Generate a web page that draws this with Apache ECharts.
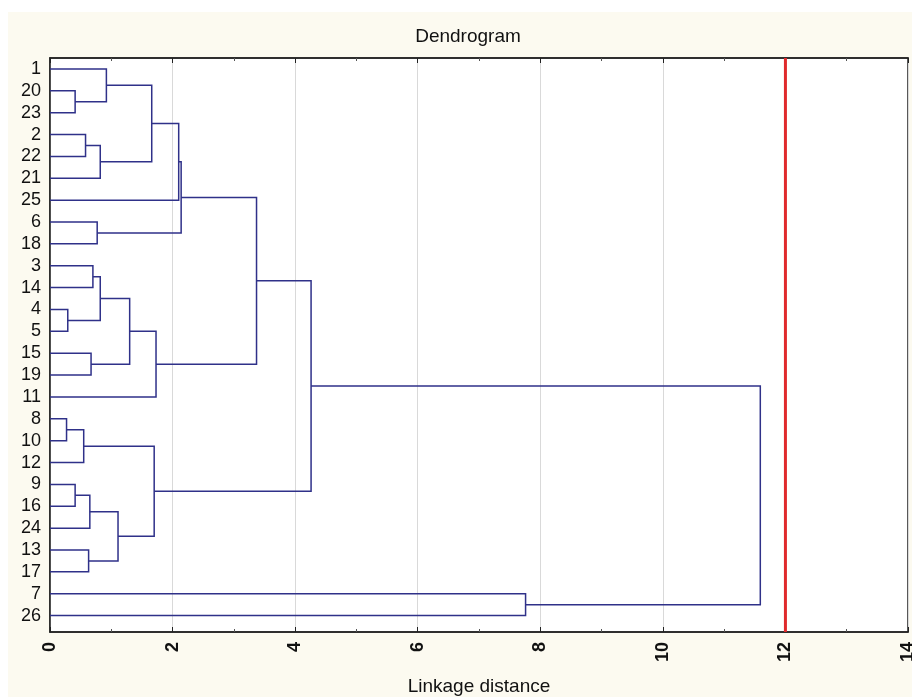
<!DOCTYPE html>
<html>
<head>
<meta charset="utf-8">
<script src="https://cdn.jsdelivr.net/npm/echarts@6/dist/echarts.min.js"></script>
<style>html,body{margin:0;padding:0;background:#fff}#c{width:912px;height:697px}</style>
</head>
<body>
<div id="c"></div>
<script>
// Leaves, top to bottom
const leafLabels = ['1','20','23','2','22','21','25','6','18','3','14','4','5','15','19','11','8','10','12','9','16','24','13','17','7','26'];
// Merge steps: cluster Ck is created by step k (1-based)
const mergeLeft   = ['20','1','2','C3','C2','C5','6','C6','3','4','C9','15','C11','C13','C8','8','C16','9','C18','13','C19','C17','C15','7','C23'];
const mergeRight  = ['23','C1','22','21','C4','25','18','C7','14','5','C10','19','C12','11','C14','10','12','16','24','17','C20','C21','C22','26','C24'];
const mergeHeight = [0.41,0.92,0.58,0.82,1.66,2.10,0.77,2.14,0.70,0.29,0.82,0.67,1.30,1.73,3.37,0.27,0.55,0.41,0.65,0.63,1.11,1.70,4.26,7.76,11.59];
const xTicks = [0,2,4,6,8,10,12,14];
const cutLevel = [12];

const pos = {};
leafLabels.forEach((l,i)=>{ pos[l] = {h:0, y:i}; });
const links = [];
mergeLeft.forEach((a,k)=>{
  const b = mergeRight[k], h = mergeHeight[k];
  const A = pos[a], B = pos[b];
  links.push([A.h, A.y, h, B.y, B.h]);
  pos['C'+(k+1)] = {h:h, y:(A.y+B.y)/2};
});

const yMin = -0.5, yMax = 25.75;
const FONT = 'Liberation Sans, Arial, sans-serif';
const NARROW = '"Liberation Sans Narrow", "Arial Narrow", "Liberation Sans", sans-serif';
const chart = echarts.init(document.getElementById('c'), null, {renderer:'canvas'});
chart.setOption({
  animation:false,
  backgroundColor:'#fcfaf0',
  graphic:[
    {type:'rect', shape:{x:0,y:0,width:912,height:12}, style:{fill:'#ffffff'}, silent:true},
    {type:'rect', shape:{x:0,y:0,width:8,height:697}, style:{fill:'#ffffff'}, silent:true},
    {type:'text', x:468, y:37, style:{text:'Dendrogram', font:'19px '+FONT, fill:'#111', align:'center', verticalAlign:'middle'}}
  ],
  grid:{left:50, top:58, right:4, bottom:65, outerBoundsMode:'none', containLabel:false,
        show:true, backgroundColor:'#ffffff', borderColor:'#222', borderWidth:1.5},
  xAxis:[{
    type:'value', min:xTicks[0], max:xTicks[xTicks.length-1], interval:2, position:'bottom',
    axisLine:{show:true, onZero:false, lineStyle:{color:'#222', width:1.5}},
    axisTick:{show:true, inside:true, length:5, lineStyle:{color:'#222'}},
    minorTick:{show:true, splitNumber:2, length:3, lineStyle:{color:'#555'}},
    splitLine:{show:true, lineStyle:{color:'#d9d9d9', width:1}},
    axisLabel:{rotate:90, margin:10, fontFamily:NARROW, fontSize:18, fontWeight:'bold', color:'#111'},
    name:'Linkage distance', nameLocation:'middle', nameGap:45,
    nameTextStyle:{fontFamily:FONT, fontSize:19, color:'#111'}
  },{
    type:'value', min:xTicks[0], max:xTicks[xTicks.length-1], interval:2, position:'top',
    axisLine:{show:true, onZero:false, lineStyle:{color:'#222', width:1.5}},
    axisTick:{show:true, inside:true, length:5, lineStyle:{color:'#222'}},
    minorTick:{show:true, splitNumber:2, length:3, lineStyle:{color:'#555'}},
    splitLine:{show:false}, axisLabel:{show:false}
  }],
  yAxis:{
    type:'value', inverse:true, min:yMin, max:yMax,
    axisLine:{show:true, onZero:false, lineStyle:{color:'#222', width:1.5}},
    axisTick:{show:false}, splitLine:{show:false},
    axisLabel:{customValues:leafLabels.map((l,i)=>i), formatter:(v)=>leafLabels[Math.round(v)] ?? '',
      margin:9, fontFamily:FONT, fontSize:18, color:'#111'}
  },
  series:[{
    type:'custom', xAxisIndex:0, yAxisIndex:0,
    data:links, encode:{x:[0,2,4], y:[1,3]}, silent:true, clip:true,
    renderItem:(params, api)=>{
      const p1 = api.coord([api.value(0), api.value(1)]);
      const p2 = api.coord([api.value(2), api.value(1)]);
      const p3 = api.coord([api.value(2), api.value(3)]);
      const p4 = api.coord([api.value(4), api.value(3)]);
      return {type:'polyline', shape:{points:[p1,p2,p3,p4]}, style:{stroke:'#2f3189', lineWidth:1.5, fill:null}};
    }
  },{
    type:'line', xAxisIndex:0, yAxisIndex:0, symbol:'none', silent:true,
    data:[[cutLevel[0], yMin],[cutLevel[0], yMax]],
    lineStyle:{color:'#e02a2c', width:3}, z:5
  }]
});
</script>
</body>
</html>
